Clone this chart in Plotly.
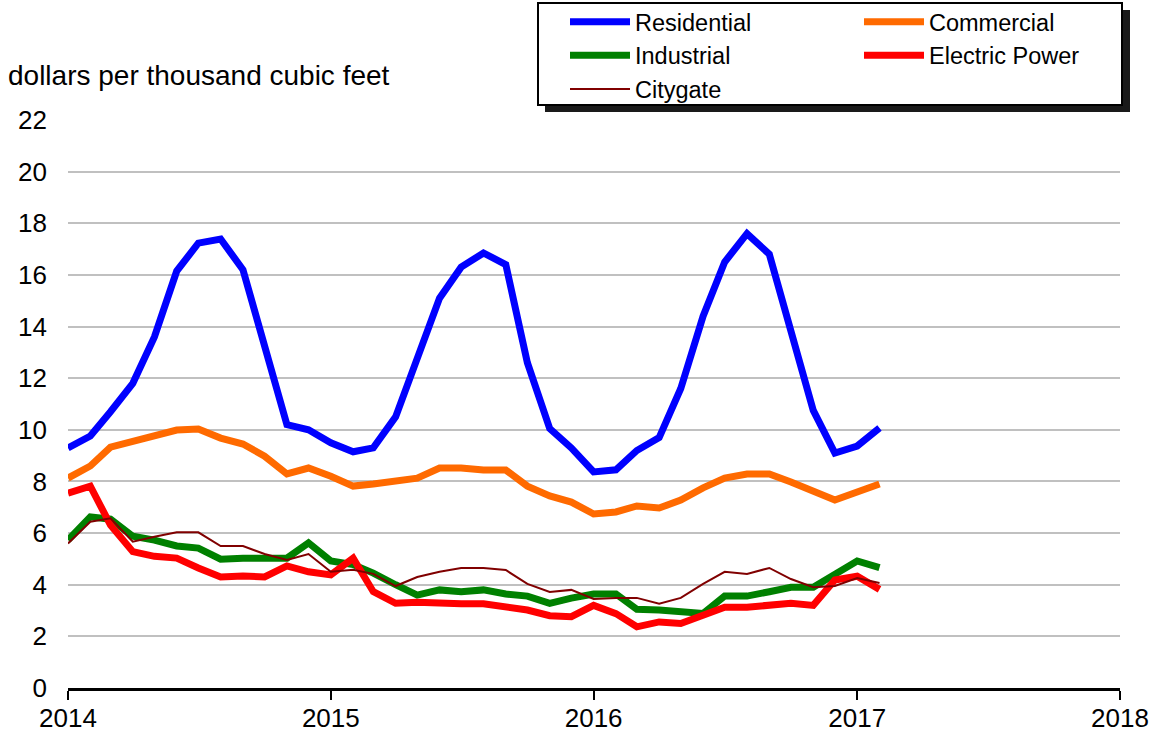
import pandas as pd
import plotly.graph_objects as go

months = pd.date_range(start="2014-01-01", periods=38, freq="MS")

residential = [9.3, 9.76, 10.7, 11.8, 13.6, 16.15, 17.23, 17.39, 16.2, 13.2, 10.2, 10.0,
               9.5, 9.15, 9.3, 10.5, 12.8, 15.1, 16.3, 16.85, 16.4, 12.6, 10.05, 9.3,
               8.37, 8.45, 9.2, 9.7, 11.6, 14.4, 16.5, 17.6, 16.8, 13.75, 10.75, 9.1,
               9.37, 10.07]
commercial = [8.13, 8.6, 9.33, 9.53, 9.76, 9.99, 10.03, 9.68, 9.45, 8.98, 8.29, 8.52,
              8.2, 7.82, 7.9, 8.05, 8.13, 8.52, 8.52, 8.44, 8.44, 7.82, 7.44, 7.2,
              6.74, 6.82, 7.05, 6.97, 7.28, 7.75, 8.13, 8.29, 8.29, 7.98, 7.59, 7.28,
              7.59, 7.9]
industrial = [5.73, 6.63, 6.54, 5.88, 5.73, 5.5, 5.42, 4.99, 5.03, 5.03, 5.03, 5.62,
              4.92, 4.78, 4.45, 4.0, 3.6, 3.8, 3.73, 3.8, 3.64, 3.56, 3.28, 3.48,
              3.64, 3.64, 3.05, 3.02, 2.95, 2.89, 3.56, 3.56, 3.73, 3.9, 3.9, 4.42,
              4.92, 4.66]
electric_power = [7.55, 7.82, 6.31, 5.28, 5.1, 5.03, 4.65, 4.3, 4.34, 4.3, 4.73, 4.5,
                  4.38, 5.03, 3.73, 3.28, 3.32, 3.26, 3.26, 3.26, 3.17, 3.02, 2.8, 2.76,
                  3.2, 2.88, 2.37, 2.56, 2.5, 2.83, 3.13, 3.13, 3.2, 3.28, 3.2, 4.18,
                  4.33, 3.82]
citygate = [5.6, 6.44, 6.57, 5.67, 5.86, 6.03, 6.03, 5.5, 5.5, 5.19, 4.96, 5.19,
            4.5, 4.58, 4.42, 3.95, 4.3, 4.5, 4.65, 4.65, 4.57, 4.03, 3.72, 3.8,
            3.45, 3.49, 3.49, 3.26, 3.49, 4.03, 4.5, 4.42, 4.65, 4.22, 3.9, 3.95,
            4.26, 4.07]

year_ticks = ["2014-01-01", "2015-01-01", "2016-01-01", "2017-01-01", "2018-01-01"]
year_labels = ["2014", "2015", "2016", "2017", "2018"]
y_ticks = list(range(0, 23, 2))

FONT = "Liberation Sans, Arial, sans-serif"
W, H = 1166, 734

series = [
    ("Residential", residential, "#0000FF", 7, "legend"),
    ("Commercial", commercial, "#FF6A00", 7, "legend2"),
    ("Industrial", industrial, "#008000", 7, "legend"),
    ("Electric Power", electric_power, "#FF0000", 7, "legend2"),
    ("Citygate", citygate, "#800000", 2, "legend"),
]

fig = go.Figure()
for name, vals, color, width, leg in series:
    fig.add_trace(go.Scatter(
        x=months, y=vals, name=name, mode="lines",
        line=dict(color=color, width=width),
        legend=leg,
    ))

legend_common = dict(
    orientation="v", bgcolor="rgba(0,0,0,0)", borderwidth=0,
    font=dict(family=FONT, size=23.5, color="#000000"),
    traceorder="normal", tracegroupgap=0,
    yanchor="top", xanchor="left", itemwidth=60,
    xref="container", yref="container",
)

fig.update_layout(
    width=W, height=H,
    margin=dict(l=68, r=46, t=120, b=46, autoexpand=False),
    paper_bgcolor="white", plot_bgcolor="white",
    font=dict(family=FONT, size=26, color="#000000"),
    title=dict(text="dollars per thousand cubic feet", x=8 / W, xanchor="left",
               xref="container", y=1 - 75 / H, yanchor="middle", yref="container",
               font=dict(family=FONT, size=28, color="#000000")),
    xaxis=dict(
        range=["2014-01-01", "2018-01-01"], tickvals=year_ticks, ticktext=year_labels,
        showgrid=False, zeroline=False, showline=True, linecolor="#000000", linewidth=3,
        ticks="outside", ticklen=9, tickwidth=2, tickcolor="#000000",
        tickfont=dict(family=FONT, size=26), ticklabelstandoff=-4, automargin=False,
    ),
    yaxis=dict(
        range=[0, 22], tickvals=y_ticks, showgrid=True, gridcolor="#C0C0C0", gridwidth=2,
        zeroline=False, showline=False, ticks="", tickfont=dict(family=FONT, size=26),
        ticklabelstandoff=20, automargin=False,
    ),
    legend=dict(legend_common, x=565 / W, y=1.0),
    legend2=dict(legend_common, x=859 / W, y=1.0),
    showlegend=True,
)

# legend frame with drop shadow
fig.add_shape(type="rect", xref="paper", yref="paper",
              x0=(545 - 68) / 1052, x1=(1130 - 68) / 1052,
              y0=(688 - 112) / 568, y1=(688 - 10) / 568,
              fillcolor="#1a1a1a", line=dict(width=0), layer="above")
fig.add_shape(type="rect", xref="paper", yref="paper",
              x0=(538 - 68) / 1052, x1=(1122 - 68) / 1052,
              y0=(688 - 105) / 568, y1=(688 - 3) / 568,
              fillcolor="white", line=dict(color="#000000", width=2), layer="above")

# small breaks in the gridlines at the year boundaries
for yr in year_ticks[1:4]:
    fig.add_shape(type="line", xref="x", yref="paper", x0=yr, x1=yr, y0=0, y1=1,
                  line=dict(color="white", width=3), layer="between")

# remove the browser's default page margin so the figure sits at the top-left corner
fig.write_html("out.html", config={"displayModeBar": False},
               post_script="document.body.style.margin='0px';")
